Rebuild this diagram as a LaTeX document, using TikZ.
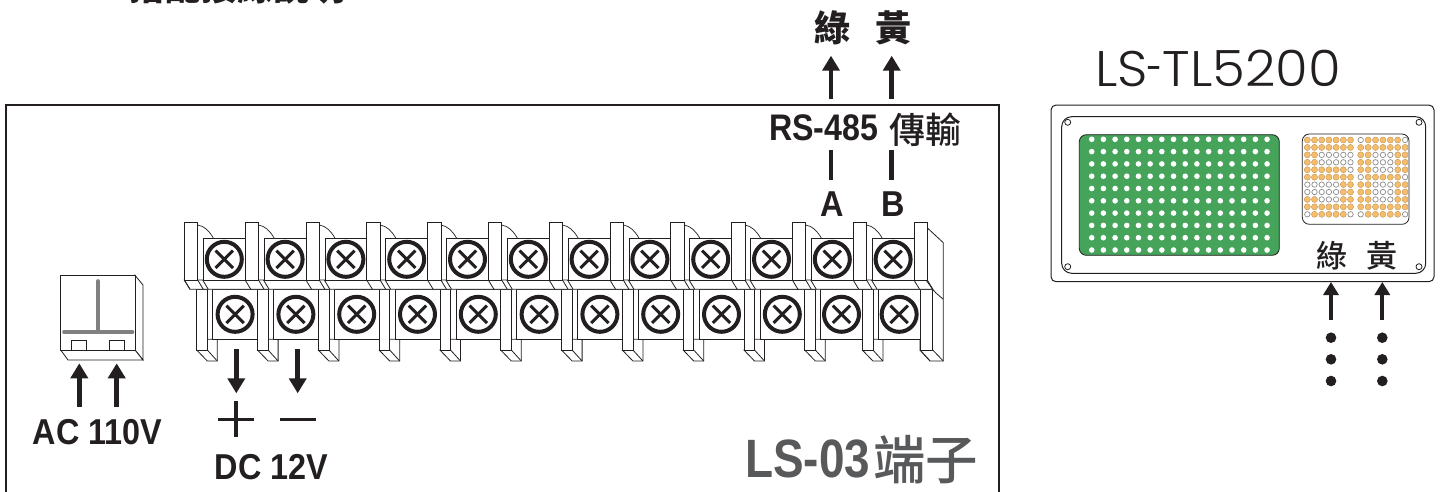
\documentclass[tikz,border=0pt]{standalone}
\usepackage{fontspec}
\usepackage{graphicx}
\usepackage{tikz}
\usetikzlibrary{arrows.meta,positioning}
\setmainfont{Liberation Sans}
\newfontfamily\cjk{Noto Sans CJK TC Medium}
\newfontfamily\thinfont{Poppins Light}
\definecolor{inkdark}{HTML}{231F20}
\definecolor{inkgrey}{HTML}{58595B}
\definecolor{ledgreen}{HTML}{45A35A}
\definecolor{ledamber}{HTML}{F6BE6C}
\tikzset{
  stripline/.style={draw=inkdark,line width=.8pt,fill=white},
  screwring/.style={draw=inkdark,line width=4pt,fill=white},
  screwcross/.style={draw=inkdark,line width=3pt},
  bigarrow/.style={draw=inkdark,fill=inkdark,line width=4.7pt,-{Triangle[width=17pt,length=15pt]}},
  smallarrow/.style={draw=inkdark,line width=4pt,-{Triangle[width=15pt,length=13pt]}},
  heavyline/.style={draw=inkdark,line width=4.7pt},
  latintext/.style={font=\bfseries\fontsize{36}{36}\selectfont,text=inkdark,xscale=.9,inner sep=0pt},
  cjktext/.style={font=\cjk\bfseries\fontsize{36}{36}\selectfont,text=inkdark,inner sep=0pt},
  panelcjk/.style={font=\cjk\fontsize{31}{31}\selectfont,text=inkdark,inner sep=0pt},
  leddot/.style={draw=black!45,line width=.7pt,fill=white},
  ledon/.style={fill=ledamber,draw=ledamber!85!black,line width=.4pt},
  holedot/.style={draw=inkdark,line width=.8pt,fill=white}
}
\begin{document}
\begin{tikzpicture}[x=1pt,y=-1pt]
\useasboundingbox (0,0) rectangle (1442,491);
%cut off heading
\node[cjktext,anchor=base] (heading) at (237.5,0.5) {搭配接線說明};
%outer frame, open below
\draw[draw=inkdark,line width=2pt] (6,495) -- (6,105) -- (999,105) -- (999,495);
%switch block
\draw[stripline] (135,275.3) -- (143,285) -- (143,360) -- (135,350) -- cycle;
\draw[stripline] (60.7,350) -- (68,360) -- (143,360) -- (135,350) -- cycle;
\draw[stripline] (60.7,275.3) rectangle (135,350);
\draw[draw=black!50,line width=3.6pt,line cap=round] (98,281) -- (98,332);
\draw[draw=black!50,line width=3.6pt,line cap=round] (64,332) -- (132.5,332);
\draw[stripline] (71.3,340.7) rectangle (86.7,350);
\draw[stripline] (109.3,340.7) rectangle (124.7,350);
%end block of the strip
\draw[stripline] (926,226.7) -- (943.3,242.7) -- (943.3,361) -- (930,361) -- (920,350) -- (920,285) -- (926,280) -- cycle;
%lower row of terminals
\foreach \xa/\xb in {196.7/257.5,257.5/318.3,318.3/379.1,379.1/439.9,439.9/500.7,500.7/561.5,561.5/622.3,622.3/683.1,683.1/743.9,743.9/804.7,804.7/862.3,862.3/920}{
   \draw[stripline] (\xa+10.6,339.3) -- (\xa+20.6,339.3) -- (\xa+20.6,361) -- (\xa+10.6,361) -- (\xa,350) -- cycle;
   \draw[stripline] (\xa+10.6,350) -- (\xa+20.6,361);
   \draw[stripline] (\xa,289.3) rectangle (\xa+10.6,350);
   \draw[stripline] (\xa+16,289.3) rectangle (\xb,339.3);
   \draw[screwring] ({(\xa+16+\xb)/2},314.3) circle (17.5);
   \draw[screwcross] ({(\xa+16+\xb)/2-8.7},305.6) -- ({(\xa+16+\xb)/2+8.7},323);
   \draw[screwcross] ({(\xa+16+\xb)/2-8.7},323) -- ({(\xa+16+\xb)/2+8.7},305.6);
}
%last lower partition
\draw[stripline] (920,289.3) rectangle (932.7,350);
\draw[stripline] (920,350) -- (930,361);
\draw[stripline] (932.7,350) -- (943.3,361);
\draw[stripline] (943.3,299.3) -- (936,293) -- (932.7,289.3);
%upper row of terminals
\draw[stripline] (184.3,280) -- (190,289.3) -- (932.7,289.3) -- (926,280) -- cycle;
\foreach \k in {0,...,12}{
   \pgfmathsetmacro\xa{184.3+60.8*\k}
   \draw[draw=inkdark,line width=.8pt] (\xa,280) -- (\xa+5.7,289.3);
   \draw[draw=inkdark,line width=.8pt] (\xa+13.4,280) -- (\xa+19,289.3);
   \draw[stripline] (\xa,222) rectangle (\xa+13.4,280);
}
\foreach \k in {0,...,11}{
   \pgfmathsetmacro\xa{184.3+60.8*\k}
   \draw[draw=inkdark,line width=.8pt] (\xa+18.4,280) -- (\xa+24,289.3);
   \draw[draw=inkdark,line width=.7pt] (\xa+13.4,225) .. controls (\xa+20,226) and (\xa+25,231) .. (\xa+29,238);
   \draw[stripline] (\xa+19,238) rectangle (\xa+60.8,280);
   \draw[screwring] (\xa+40,259.3) circle (17.5);
   \draw[screwcross] (\xa+31.3,250.6) -- (\xa+48.7,268);
   \draw[screwcross] (\xa+31.3,268) -- (\xa+48.7,250.6);
}
%power arrows
\coordinate (actaila) at (79.3,406.7);
\coordinate (actipa) at (79.3,363.3);
\coordinate (actailb) at (116.7,406.7);
\coordinate (actipb) at (116.7,363.3);
\draw[bigarrow] (actaila) -- (actipa);
\draw[bigarrow] (actailb) -- (actipb);
\node[latintext] (aclabel) at (97.5,432) {AC 110V};
\coordinate (dctaila) at (236.3,349.3);
\coordinate (dctipa) at (236.3,393.3);
\coordinate (dctailb) at (297.7,349.3);
\coordinate (dctipb) at (297.7,393.3);
\draw[bigarrow] (dctaila) -- (dctipa);
\draw[bigarrow] (dctailb) -- (dctipb);
\draw[draw=inkdark,line width=3pt] (218,419) -- (254,419);
\draw[draw=inkdark,line width=4pt] (236,401) -- (236,436.7);
\draw[draw=inkdark,line width=3pt] (280,419) -- (316,419);
\node[latintext] (dclabel) at (271.5,466.6) {DC 12V};
%RS-485 wires
\node[cjktext] (greentop) at (832.5,28) {綠};
\node[cjktext] (yellowtop) at (893,28) {黃};
\coordinate (rstaila) at (831,99.3);
\coordinate (rstipa) at (831,55.7);
\coordinate (rstailb) at (891.7,99.3);
\coordinate (rstipb) at (891.7,55.7);
\draw[bigarrow] (rstaila) -- (rstipa);
\draw[bigarrow] (rstailb) -- (rstipb);
\node[latintext,xscale=1/.9,anchor=base west] (rslabel) at (769,140) {\scalebox{.87}[1]{\fontsize{37}{37}\selectfont RS-485}\hspace{11pt}\raisebox{-3pt}{\cjk\mdseries\fontsize{36}{36}\selectfont 傳輸}};
\coordinate (wiretopa) at (831,150);
\coordinate (wirebota) at (831,180);
\coordinate (wiretopb) at (891.7,150);
\coordinate (wirebotb) at (891.7,180);
\draw[heavyline] (wiretopa) -- (wirebota);
\draw[heavyline] (wiretopb) -- (wirebotb);
\node[latintext] (pina) at (832,204) {A};
\node[latintext] (pinb) at (892.7,204) {B};
\node[anchor=base west,inner sep=0pt,text=inkgrey,font=\bfseries\fontsize{54}{54}\selectfont] (striplabel) at (745,477) {\scalebox{.85}[1]{LS-03}\hspace{3pt}\raisebox{-2pt}{\cjk\mdseries\fontsize{52.5}{52.5}\selectfont 端子}};
%display panel
\node[inner sep=0pt,text=inkdark,xscale=1.06,font=\thinfont\fontsize{50}{50}\selectfont] (paneltitle) at (1218,68) {LS\scalebox{.55}[1]{-}TL5200};
\draw[draw=inkdark,line width=1pt,rounded corners=5pt,fill=white] (1051,105) rectangle (1434,281.7);
\draw[draw=inkdark,line width=1pt,rounded corners=10pt] (1061.7,116.7) rectangle (1425.7,273.3);
\foreach \x/\y in {1067.7/122.3,1419/122.3,1067.7/266.7,1419/266.7}{
   \draw[holedot] (\x,\y) circle (3);
}
\draw[draw=inkdark,line width=.8pt,fill=ledgreen,rounded corners=7pt] (1079.3,134.7) rectangle (1279.3,255.3);
\foreach \r in {0,...,9}{
   \foreach \c in {0,...,15}{
      \fill[white] (1091.7+11.69*\c,139.3+12.3*\r) circle (2.8);
   }
}
\draw[draw=inkdark,line width=.8pt,fill=white,rounded corners=7pt] (1302.3,134) rectangle (1409,224.3);
\foreach \r in {0,...,10}{
   \foreach \c in {0,...,6}{
      \draw[leddot] (1307.3+7.2*\c,140+7.43*\r) circle (2.7);
      \draw[leddot] (1360.7+7.4*\c,140+7.43*\r) circle (2.7);
   }
}
%the digit 5
\foreach \r/\cols in {0/{0,1,2,3,4,5,6},1/{0,1,2,3,4,5,6},2/{0,1},3/{0,1},4/{0,1,2,3,4,5},5/{0,1,2,3,4,5,6},6/{5,6},7/{5,6},8/{0,1,5,6},9/{0,1,2,3,4,5,6},10/{1,2,3,4,5}}{
   \foreach \c in \cols{
      \draw[ledon] (1307.3+7.2*\c,140+7.43*\r) circle (3);
   }
}
%the digit 8
\foreach \r/\cols in {0/{1,2,3,4,5},1/{0,1,2,3,4,5,6},2/{0,1,5,6},3/{0,1,5,6},4/{0,1,5,6},5/{1,2,3,4,5},6/{0,1,5,6},7/{0,1,5,6},8/{0,1,5,6},9/{0,1,2,3,4,5,6},10/{1,2,3,4,5}}{
   \foreach \c in \cols{
      \draw[ledon] (1360.7+7.4*\c,140+7.43*\r) circle (3);
   }
}
\node[panelcjk] (greenlabel) at (1331.5,255.5) {綠};
\node[panelcjk] (yellowlabel) at (1382,255.5) {黃};
\coordinate (greentail) at (1331,320);
\coordinate (greentip) at (1331,282);
\coordinate (yellowtail) at (1382.3,320);
\coordinate (yellowtip) at (1382.3,282);
\draw[smallarrow] (greentail) -- (greentip);
\draw[smallarrow] (yellowtail) -- (yellowtip);
\foreach \x in {1331,1382.3}{
   \foreach \y in {337.7,359.3,381}{
      \fill[inkdark] (\x,\y) circle (5.3);
   }
}
\end{tikzpicture}
\end{document}
